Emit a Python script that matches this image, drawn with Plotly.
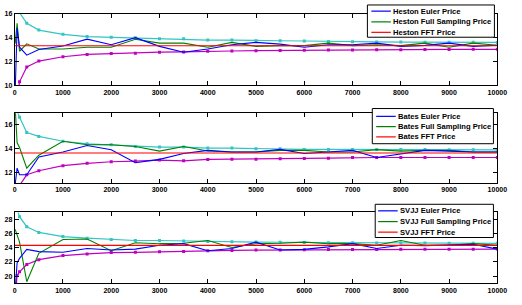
import plotly.graph_objects as go

W, H = 522, 305

N = [10, 50, 100, 250, 500, 1000, 1500, 2000, 2500, 3000, 3500, 4000, 4500, 5000,
     5500, 6000, 6500, 7000, 7500, 8000, 8500, 9000, 9500, 10000]
x_ticks = list(range(0, 10001, 1000))
x_ticklabels = [str(v) for v in x_ticks]

# Heston
heston_euler = [9.5, 14.8, 13.2, 12.53, 13.0, 13.3, 13.87, 13.4, 14.0, 13.27, 12.78, 13.05,
                13.4, 13.6, 13.46, 13.19, 13.4, 13.4, 13.54, 13.27, 13.35, 13.54, 13.27, 13.36]
heston_full = [13.5, 15.2, 12.86, 13.48, 13.05, 13.05, 13.19, 13.19, 13.87, 13.54, 13.54, 13.19,
               13.6, 13.27, 13.33, 13.33, 13.54, 13.33, 13.4, 13.33, 13.54, 13.19, 13.54, 13.36]
heston_fft = 13.32
heston_upper = [25.0, 17.5, 16.1, 15.2, 14.63, 14.28, 14.09, 14.03, 14.0, 13.9, 13.9, 13.8,
                13.8, 13.75, 13.74, 13.72, 13.68, 13.65, 13.64, 13.63, 13.62, 13.61, 13.61, 13.6]
heston_lower = [1.0, 9.0, 10.3, 11.55, 12.04, 12.4, 12.59, 12.67, 12.7, 12.78, 12.8, 12.86,
                12.88, 12.91, 12.93, 12.94, 12.97, 12.97, 12.98, 12.99, 13.0, 13.01, 13.02, 13.02]

# Bates
bates_euler = [11.0, 12.36, 11.8, 11.8, 13.31, 13.72, 14.27, 13.92, 12.82, 13.1, 13.6, 13.86,
               13.72, 13.72, 13.94, 13.59, 13.72, 13.86, 13.26, 13.59, 13.86, 13.8, 13.72, 13.72]
bates_full = [17.5, 14.5, 14.1, 12.36, 13.45, 14.63, 14.33, 14.33, 14.19, 13.8, 14.19, 13.8,
              13.72, 13.72, 13.86, 13.86, 13.72, 13.72, 13.92, 13.8, 13.86, 13.86, 13.72, 13.72]
bates_fft = 13.64
bates_upper = [19.0, 17.2, 16.65, 15.37, 15.04, 14.63, 14.41, 14.33, 14.19, 14.14, 14.14, 14.05,
               14.05, 14.0, 14.0, 13.94, 13.94, 13.94, 13.94, 13.93, 13.93, 13.92, 13.91, 13.9]
bates_lower = [8.0, 10.0, 10.9, 11.8, 12.14, 12.57, 12.77, 12.9, 12.96, 13.04, 12.98, 13.1,
               13.12, 13.12, 13.15, 13.18, 13.2, 13.26, 13.26, 13.26, 13.26, 13.26, 13.26, 13.26]

# SVJJ
svjj_euler = [18.0, 21.87, 22.5, 23.77, 23.45, 23.36, 23.9, 23.68, 23.81, 24.35, 24.58, 23.59,
              23.9, 24.8, 23.68, 23.77, 24.13, 24.58, 23.9, 24.35, 24.3, 24.35, 24.5, 23.81]
svjj_full = [26.6, 25.9, 24.8, 19.2, 23.22, 25.17, 25.25, 23.59, 24.72, 24.58, 24.63, 25.03,
             24.04, 24.58, 24.63, 24.8, 24.58, 24.58, 24.35, 25.03, 24.35, 24.35, 24.58, 24.35]
svjj_fft = 24.35
svjj_upper = [33.0, 29.5, 28.4, 26.98, 26.17, 25.58, 25.36, 25.17, 25.03, 25.03, 24.95, 24.9,
              24.85, 24.8, 24.78, 24.76, 24.72, 24.7, 24.69, 24.68, 24.66, 24.65, 24.64, 24.63]
svjj_lower = [17.0, 20.07, 20.6, 21.64, 22.32, 22.9, 23.13, 23.32, 23.36, 23.45, 23.47, 23.59,
              23.62, 23.68, 23.7, 23.72, 23.74, 23.77, 23.77, 23.78, 23.79, 23.8, 23.8, 23.81]

panels = [
    dict(name="Heston", euler=heston_euler, full=heston_full, fft=heston_fft,
         upper=heston_upper, lower=heston_lower, yrange=[10, 16], yticks=[10, 12, 14, 16]),
    dict(name="Bates", euler=bates_euler, full=bates_full, fft=bates_fft,
         upper=bates_upper, lower=bates_lower, yrange=[11.1, 17], yticks=[12, 14, 16]),
    dict(name="SVJJ", euler=svjj_euler, full=svjj_full, fft=svjj_fft,
         upper=svjj_upper, lower=svjj_lower, yrange=[19, 29], yticks=[20, 22, 24, 26, 28]),
]
labels = ["Euler Price", "Full Sampling Price", "FFT Price"]

BLUE = "#0000ff"
GREEN = "#008000"
RED = "#ff0000"
CYAN = "#33c4c4"
MAGENTA = "#c000c0"

FAM = "Liberation Sans, Arial, sans-serif"

# pixel geometry
x0px, x1px = 13, 507
panel_px = [(10, 83.3), (111.7, 183.3), (213.3, 285.7)]
legend_px = [
    dict(box=(374, 1, 504, 34), rows=[7.3, 18.3, 29], line=(378, 398), text=399),
    dict(box=(379, 107, 503, 143), rows=[115, 125.5, 136], line=(383, 403), text=404),
    dict(box=(382, 205, 503, 239), rows=[211.7, 222.7, 233.5], line=(385, 405), text=406),
]

def px(x):
    return x / W

def py(y):
    return 1 - y / H

fig = go.Figure()
tickfont = dict(family=FAM, size=7, color="black", weight="bold")
shapes = []
annotations = []

for i, p in enumerate(panels):
    k = "" if i == 0 else str(i + 1)
    xa, ya = "x" + k, "y" + k
    fft_line = [p["fft"]] * len(N)
    fig.add_trace(go.Scatter(x=N, y=p["upper"], mode="lines+markers", xaxis=xa, yaxis=ya,
                             line=dict(color=CYAN, width=1.2),
                             marker=dict(symbol="square", size=3, color=CYAN), showlegend=False))
    fig.add_trace(go.Scatter(x=N, y=p["lower"], mode="lines+markers", xaxis=xa, yaxis=ya,
                             line=dict(color=MAGENTA, width=1.2),
                             marker=dict(symbol="square", size=3, color=MAGENTA), showlegend=False))
    fig.add_trace(go.Scatter(x=N, y=p["full"], mode="lines", xaxis=xa, yaxis=ya,
                             line=dict(color=GREEN, width=1.1), showlegend=False))
    fig.add_trace(go.Scatter(x=N, y=p["euler"], mode="lines", xaxis=xa, yaxis=ya,
                             line=dict(color=BLUE, width=1.1), showlegend=False))
    fig.add_trace(go.Scatter(x=[0] + N, y=[p["fft"]] + fft_line, mode="lines", xaxis=xa, yaxis=ya,
                             line=dict(color=RED, width=1.2), showlegend=False))

    top, bot = panel_px[i]
    axcommon = dict(showline=True, linecolor="black", linewidth=1, mirror="ticks",
                    ticks="inside", ticklen=4, tickcolor="black", showgrid=False,
                    zeroline=False, tickfont=tickfont)
    fig.update_layout(**{
        "xaxis" + k: dict(domain=[px(x0px), px(x1px)], range=[0, 10000],
                          tickvals=x_ticks, ticktext=x_ticklabels, anchor=ya, **axcommon),
        "yaxis" + k: dict(domain=[py(bot), py(top)], range=p["yrange"],
                          tickvals=p["yticks"], ticktext=[str(v) for v in p["yticks"]],
                          anchor=xa, **axcommon),
    })

    # manual legend
    L = legend_px[i]
    bx0, by0, bx1, by1 = L["box"]
    shapes.append(dict(type="rect", xref="paper", yref="paper",
                       x0=px(bx0), x1=px(bx1), y0=py(by1), y1=py(by0),
                       line=dict(color="black", width=1), fillcolor="white", layer="above"))
    for col, lab, ry in zip([BLUE, GREEN, RED], labels, L["rows"]):
        shapes.append(dict(type="line", xref="paper", yref="paper",
                           x0=px(L["line"][0]), x1=px(L["line"][1]), y0=py(ry), y1=py(ry),
                           line=dict(color=col, width=1.2), layer="above"))
        annotations.append(dict(xref="paper", yref="paper", x=px(L["text"]), y=py(ry),
                                xanchor="left", yanchor="middle", showarrow=False,
                                borderpad=0,
                                text="%s %s" % (p["name"], lab),
                                font=dict(family=FAM, size=7.6, color="black", weight="bold")))

fig.update_layout(width=W, height=H, margin=dict(l=0, r=0, t=0, b=0),
                  paper_bgcolor="white", plot_bgcolor="white",
                  shapes=shapes, annotations=annotations, showlegend=False,
                  font=dict(family=FAM))

fig.write_html("out.html")
